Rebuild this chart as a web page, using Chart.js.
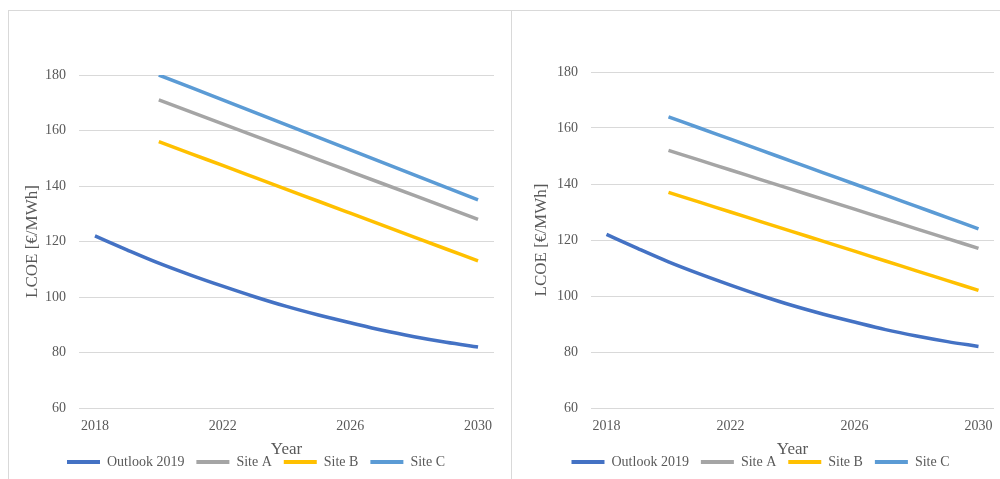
<!DOCTYPE html>
<html>
<head>
<meta charset="utf-8">
<script src="https://cdn.jsdelivr.net/npm/chart.js@4.4.1/dist/chart.umd.min.js"></script>
<style>
    body { margin: 0; background: #fff; }
    .panel { position: absolute; top: 10px; height: 480px; border: 1px solid #d9d9d9; background: #fff; }
    #leftPanel { left: 8px; width: 502px; }
    #rightPanel { left: 512px; width: 490px; border-left: none; }
    canvas { display: block; }
</style>
</head>
<body>
<div class="panel" id="leftPanel"><canvas id="leftChart" width="502" height="468"></canvas></div>
<div class="panel" id="rightPanel"><canvas id="rightChart" width="488" height="468"></canvas></div>
<script>
const years = ['2018', '2019', '2020', '2021', '2022', '2023', '2024', '2025', '2026', '2027', '2028', '2029', '2030'];
const seriesNames = ['Outlook 2019', 'Site A', 'Site B', 'Site C'];
const seriesColors = ['#4472C4', '#A5A5A5', '#FFC000', '#5B9BD5'];

// left chart
const outlookLeft = [122, 117, 112.2, 107.9, 103.9, 100.1, 96.6, 93.5, 90.7, 88, 85.7, 83.7, 82];
const siteALeft = [null, null, 171, 166.7, 162.4, 158.1, 153.8, 149.5, 145.2, 140.9, 136.6, 132.3, 128];
const siteBLeft = [null, null, 156, 151.7, 147.4, 143.1, 138.8, 134.5, 130.2, 125.9, 121.6, 117.3, 113];
const siteCLeft = [null, null, 180, 175.5, 171, 166.5, 162, 157.5, 153, 148.5, 144, 139.5, 135];

// right chart
const outlookRight = [122, 117, 112.2, 107.9, 103.9, 100.1, 96.6, 93.5, 90.7, 88, 85.7, 83.7, 82];
const siteARight = [null, null, 152, 148.5, 145, 141.5, 138, 134.5, 131, 127.5, 124, 120.5, 117];
const siteBRight = [null, null, 137, 133.5, 130, 126.5, 123, 119.5, 116, 112.5, 109, 105.5, 102];
const siteCRight = [null, null, 164, 160, 156, 152, 148, 144, 140, 136, 132, 128, 124];

const yTicks = [60, 80, 100, 120, 140, 160, 180];
const xLabelYears = ['2018', '2022', '2026', '2030'];

const fontFamily = "'Liberation Serif', 'Times New Roman', serif";
const textColor = '#595959';

function makeChart(canvasId, values, pad, yWidth) {
    const ctx = document.getElementById(canvasId).getContext('2d');
    return new Chart(ctx, {
        type: 'line',
        data: {
            labels: years,
            datasets: values.map((v, i) => ({
                label: seriesNames[i],
                data: v,
                borderColor: seriesColors[i],
                backgroundColor: seriesColors[i],
                borderWidth: 3.5,
                pointRadius: 0,
                cubicInterpolationMode: 'monotone',
                fill: false,
            })),
        },
        options: {
            responsive: false,
            animation: false,
            layout: { padding: pad },
            plugins: {
                tooltip: { enabled: false },
                legend: {
                    position: 'bottom',
                    labels: {
                        boxWidth: 33,
                        boxHeight: 4,
                        padding: 12,
                        color: textColor,
                        font: { family: fontFamily, size: 14 },
                        generateLabels: (chart) => {
                            const items = Chart.defaults.plugins.legend.labels.generateLabels(chart);
                            items.forEach(it => { it.lineWidth = 0; });
                            return items;
                        },
                    },
                },
            },
            scales: {
                x: {
                    offset: true,
                    grid: { display: false },
                    border: { display: false },
                    ticks: {
                        autoSkip: false,
                        maxRotation: 0,
                        padding: 2,
                        color: textColor,
                        font: { family: fontFamily, size: 14 },
                        callback: function (val) {
                            const lab = this.getLabelForValue(val);
                            return xLabelYears.includes(lab) ? lab : '';
                        },
                    },
                    title: {
                        display: true,
                        text: 'Year',
                        color: textColor,
                        font: { family: fontFamily, size: 17 },
                        padding: { top: 0, bottom: -17 },
                    },
                    afterFit: (scale) => { scale.height = 35; },
                },
                y: {
                    min: 60,
                    max: 180,
                    afterBuildTicks: (scale) => { scale.ticks = yTicks.map(v => ({ value: v })); },
                    grid: { color: '#d9d9d9', lineWidth: 1, drawTicks: false },
                    border: { display: false },
                    ticks: {
                        padding: 13,
                        color: textColor,
                        font: { family: fontFamily, size: 14 },
                    },
                    title: {
                        display: true,
                        text: 'LCOE [€/MWh]',
                        color: textColor,
                        font: { family: fontFamily, size: 17 },
                    },
                    afterFit: (scale) => { scale.width = yWidth; },
                },
            },
        },
    });
}

makeChart('leftChart', [outlookLeft, siteALeft, siteBLeft, siteCLeft],
    { top: 64, right: 17, left: 9, bottom: 0 }, 61);
makeChart('rightChart', [outlookRight, siteARight, siteBRight, siteCRight],
    { top: 61, right: 6, left: 15, bottom: 0 }, 64);
</script>
</body>
</html>
